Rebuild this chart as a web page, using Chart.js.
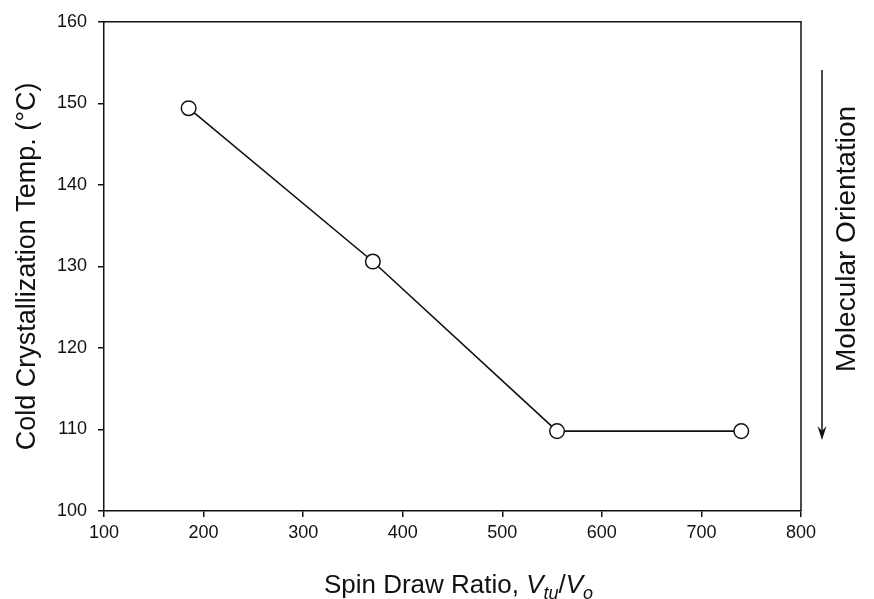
<!DOCTYPE html>
<html>
<head>
<meta charset="utf-8">
<title>Cold crystallization temperature vs spin draw ratio</title>
<script src="https://cdn.jsdelivr.net/npm/chart.js@4/dist/chart.umd.min.js"></script>
<style>
  html, body { margin: 0; padding: 0; background: #fff; }
  #wrap { width: 874px; height: 599px; }
</style>
</head>
<body>
<div id="wrap"><canvas id="coldCrystChart"></canvas></div>
<script>
/* data */
var drawRatio = [185, 370, 555, 740];
var coldCrystTemp = [149.4, 130.6, 109.8, 109.8];
var xTicks = [100, 200, 300, 400, 500, 600, 700, 800];
var yTicks = [100, 110, 120, 130, 140, 150, 160];

(function () {
  'use strict';

  var FONT = "'Liberation Sans', Arial, Helvetica, sans-serif";
  var INK = '#111';

  Chart.defaults.font.family = FONT;
  Chart.defaults.color = INK;

  // top + right frame, x-axis title with italics/subscripts, and the orientation arrow
  var extras = {
    id: 'extras',
    afterDraw: function (chart) {
      var ctx = chart.ctx;
      var a = chart.chartArea;
      ctx.save();
      ctx.strokeStyle = INK;
      ctx.lineWidth = 1.5;
      ctx.beginPath();
      ctx.moveTo(a.left, a.top);
      ctx.lineTo(a.right, a.top);
      ctx.lineTo(a.right, a.bottom);
      ctx.stroke();

      // x title: Spin Draw Ratio, V_tu/V_o
      var parts = [
        { t: 'Spin Draw Ratio, ', f: '26px ' + FONT, dy: 0 },
        { t: 'V', f: 'italic 26px ' + FONT, dy: 0 },
        { t: 'tu', f: 'italic 18px ' + FONT, dy: 6 },
        { t: '/', f: '26px ' + FONT, dy: 0 },
        { t: 'V', f: 'italic 26px ' + FONT, dy: 0 },
        { t: 'o', f: 'italic 18px ' + FONT, dy: 6 }
      ];
      var total = 0;
      parts.forEach(function (p) { ctx.font = p.f; p.w = ctx.measureText(p.t).width; total += p.w; });
      var x = (a.left + a.right) / 2 + 6 - total / 2;
      var base = 593;
      ctx.fillStyle = INK;
      ctx.textBaseline = 'alphabetic';
      ctx.textAlign = 'left';
      parts.forEach(function (p) {
        ctx.font = p.f;
        ctx.fillText(p.t, x, base + p.dy);
        x += p.w;
      });

      // arrow on the right
      var ax = 822, y0 = 70, y1 = 440;
      ctx.lineWidth = 1.5;
      ctx.beginPath();
      ctx.moveTo(ax, y0);
      ctx.lineTo(ax, y1 - 6);
      ctx.stroke();
      ctx.beginPath();
      ctx.moveTo(ax, y1);
      ctx.lineTo(ax - 4.5, y1 - 14);
      ctx.lineTo(ax, y1 - 9);
      ctx.lineTo(ax + 4.5, y1 - 14);
      ctx.closePath();
      ctx.fill();

      ctx.translate(847, 239);
      ctx.rotate(-Math.PI / 2);
      ctx.font = '28px ' + FONT;
      ctx.textAlign = 'center';
      ctx.textBaseline = 'middle';
      ctx.fillText('Molecular Orientation', 0, 0);
      ctx.restore();
    }
  };

  var ctx = document.getElementById('coldCrystChart');
  new Chart(ctx, {
    type: 'line',
    data: {
      datasets: [{
        data: drawRatio.map(function (v, i) { return { x: v, y: coldCrystTemp[i] }; }),
        borderColor: INK,
        borderWidth: 1.6,
        tension: 0,
        pointRadius: 7.3,
        pointBackgroundColor: '#fff',
        pointBorderColor: INK,
        pointBorderWidth: 1.5,
        fill: false
      }]
    },
    options: {
      responsive: true,
      maintainAspectRatio: false,
      animation: false,
      layout: { padding: { top: 20, right: 73, left: 0, bottom: 0 } },
      plugins: {
        legend: { display: false },
        tooltip: { enabled: false }
      },
      scales: {
        x: {
          type: 'linear',
          min: 100, max: 800,
          afterBuildTicks: function (s) { s.ticks = xTicks.map(function (v) { return { value: v }; }); },
          afterFit: function (s) { s.height = 88; },
          grid: { drawOnChartArea: false, drawTicks: true, tickLength: 6, color: INK, lineWidth: 1.5 },
          border: { display: true, color: INK, width: 1.5 },
          ticks: { font: { size: 18 }, color: INK, padding: 5, maxRotation: 0 }
        },
        y: {
          type: 'linear',
          min: 100, max: 160,
          afterBuildTicks: function (s) { s.ticks = yTicks.map(function (v) { return { value: v }; }); },
          afterFit: function (s) { s.width = 104; },
          grid: { drawOnChartArea: false, drawTicks: true, tickLength: 6, color: INK, lineWidth: 1.5 },
          border: { display: true, color: INK, width: 1.5 },
          ticks: { font: { size: 18 }, color: INK, padding: 11 },
          title: {
            display: true,
            text: 'Cold Crystallization Temp. (\u00B0C)',
            font: { size: 27 },
            color: INK,
            padding: { top: 11, bottom: 0 }
          }
        }
      }
    },
    plugins: [extras]
  });
}());
</script>
</body>
</html>
